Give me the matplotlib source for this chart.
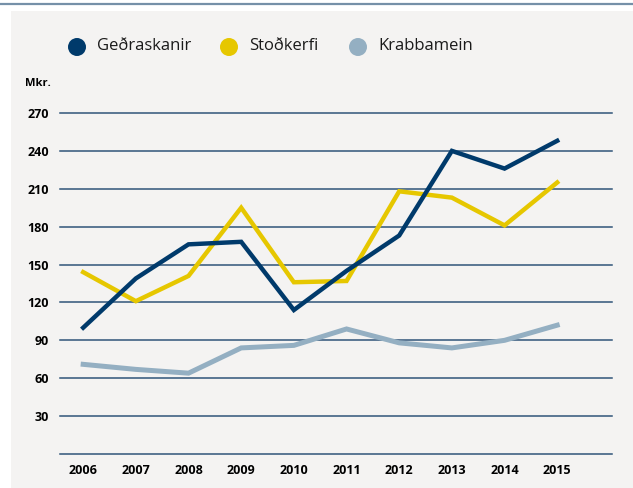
import matplotlib.pyplot as plt
import matplotlib.patches as mpatches
from matplotlib.lines import Line2D

plt.rcParams['font.family'] = ['Open Sans', 'DejaVu Sans']

years = [2006, 2007, 2008, 2009, 2010, 2011, 2012, 2013, 2014, 2015]
gedraskanir = [100, 139, 166, 168, 114, 145, 173, 240, 226, 248]
stodkerfi = [144, 121, 141, 195, 136, 137, 208, 203, 181, 215]
krabbamein = [71, 67, 64, 84, 86, 99, 88, 84, 90, 102]
yticks = [30, 60, 90, 120, 150, 180, 210, 240, 270]

navy = "#003a6b"
yellow = "#e6c700"
grey_blue = "#94afc2"
grid_col = "#2f5479"

fig = plt.figure(figsize=(6.33, 4.88), dpi=100)
fig.patch.set_facecolor("white")

# light panel and top rule
fig.add_artist(mpatches.Rectangle((11/633, 0), 1, 477/488, transform=fig.transFigure,
                                  facecolor="#f4f3f2", edgecolor="none", zorder=0))
fig.add_artist(Line2D([0, 1], [1 - 4/488, 1 - 4/488], transform=fig.transFigure,
                      color="#7590a8", linewidth=1.6))

ax = fig.add_axes([60/633, 34/488, 552/633, 341/488])
ax.set_facecolor("none")
ax.set_xlim(2005.56, 2016.04)
ax.set_ylim(0, 270)

for y in [0] + yticks:
    ax.axhline(y, color=grid_col, linewidth=1.1, zorder=1, clip_on=False)

ax.plot(years, krabbamein, color=grey_blue, linewidth=3.6, zorder=3, clip_on=False,
        solid_joinstyle="miter")
ax.plot(years, stodkerfi, color=yellow, linewidth=3.2, zorder=4, clip_on=False,
        solid_joinstyle="miter")
ax.plot(years, gedraskanir, color=navy, linewidth=3.2, zorder=5, clip_on=False,
        solid_joinstyle="miter")

for s in ax.spines.values():
    s.set_visible(False)
ax.tick_params(length=0)
ax.set_xticks(years)
ax.set_xticklabels([str(y) for y in years], fontsize=9, fontweight="bold")
ax.tick_params(axis="x", pad=7)
ax.set_yticks(yticks)
ax.set_yticklabels([str(y) for y in yticks], fontsize=9, fontweight="bold")
ax.tick_params(axis="y", pad=8)

fig.text(25/633, 1 - 84/488, "Mkr.", fontsize=8, fontweight="bold", va="center", ha="left")

# legend
legend_items = [("Geðraskanir", navy, 77), ("Stoðkerfi", yellow, 229), ("Krabbamein", grey_blue, 358)]
for label, col, x in legend_items:
    fig.add_artist(mpatches.Ellipse((x/633, 1 - 47/488), 18/633, 18/488, transform=fig.transFigure,
                                    facecolor=col, edgecolor="none"))
    fig.text((x + 20)/633, 1 - 46/488, label, fontsize=12, va="center", ha="left", color="#1a1a1a")

fig.savefig("out.png", dpi=100)
